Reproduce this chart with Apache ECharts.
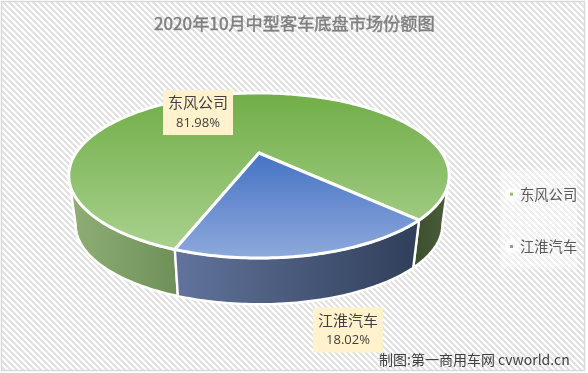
<!DOCTYPE html>
<html><head><meta charset="utf-8">
<style>html,body{margin:0;padding:0;background:#fff}#c{width:588px;height:373px}</style>
<script src="https://cdn.jsdelivr.net/npm/echarts@6/dist/echarts.min.js"></script>
</head><body><div id="c"></div>
<script>
const categories = ['东风公司', '江淮汽车'];
const shares = [81.98, 18.02];
const titleText = '2020年10月中型客车底盘市场份额图';
const creditText = '制图:第一商用车网 cvworld.cn';

const CJK = '"Noto Sans CJK SC"';
const firstSliceDeg = 110;
const view = {cx: 259, cy: 153, b: 183, a: 76.4, k: 0.2727, baseCy: 203, baseScale: 0.964};
const visible = [15.8, 164.2];
const topFill = [['#70AD47', '#A9D18E'], ['#4472C4', '#8FAADC']];
const wallFill = [
  {left: ['#8FAF75', '#6E9058'], right: ['#3C4E2D', '#4B5E39']},
  {left: ['#62749C', '#2F3E59'], right: ['#62749C', '#2F3E59']}
];
const labelBox = [
  {x: 198, y: 112.5, pad: 5},
  {x: 348, y: 330, pad: 5}
];

function project(deg) {
  const t = deg * Math.PI / 180, u = Math.cos(t), v = -Math.sin(t), d = 1 + view.k * v;
  return {dx: view.b * u / d, dy: -view.a * v / d};
}
const topPt = deg => { const p = project(deg); return [view.cx + p.dx, view.cy + p.dy]; };
const basePt = deg => { const p = project(deg); return [view.cx + p.dx * view.baseScale, view.baseCy + p.dy * view.baseScale]; };
function arc(fn, from, to) {
  const out = [], n = Math.max(2, Math.ceil(Math.abs(to - from)));
  for (let i = 0; i <= n; i++) out.push(fn(from + (to - from) * i / n));
  return out;
}
function vGrad(c) { return new echarts.graphic.LinearGradient(0, 0, 0, 1, [{offset: 0, color: c[0]}, {offset: 1, color: c[1]}]); }
function hGrad(c) { return new echarts.graphic.LinearGradient(0, 0, 1, 0, [{offset: 0, color: c[0]}, {offset: 1, color: c[1]}]); }

const sum = shares.reduce((a, b) => a + b, 0);
function sliceRange(idx) {
  let s = firstSliceDeg;
  for (let i = 0; i < idx; i++) s += shares[i] / sum * 360;
  return [s, s + shares[idx] / sum * 360];
}

function makeRender(idx) {
  return function (params, api) {
    const [a0, a1] = sliceRange(idx);
    const value = api.value(0);
    const children = [];
    [0, 360].forEach(off => {
      const from = Math.max(a0, visible[0] + off), to = Math.min(a1, visible[1] + off);
      if (to <= from) return;
      const mid = (from + to) / 2 - off;
      const pts = arc(topPt, from, to).concat(arc(basePt, to, from));
      children.push({
        type: 'polygon', shape: {points: pts},
        style: {fill: hGrad(mid > 90 ? wallFill[idx].left : wallFill[idx].right), stroke: '#fff', lineWidth: 2.4, lineJoin: 'round'},
        z2: 1
      });
    });
    children.push({
      type: 'polygon', shape: {points: [[view.cx, view.cy]].concat(arc(topPt, a0, a1))},
      style: {fill: vGrad(topFill[idx]), stroke: '#fff', lineWidth: 3, lineJoin: 'round'},
      z2: 2
    });
    const L = labelBox[idx];
    children.push({
      type: 'text', x: L.x, y: L.y, z2: 5,
      style: {
        text: '{n|' + categories[idx] + '}\n{p|' + value.toFixed(2) + '%}',
        align: 'center', verticalAlign: 'middle',
        backgroundColor: '#FFF2CC', padding: [2, L.pad, 2, L.pad],
        rich: {
          n: {font: '15px ' + CJK, fill: '#404040', lineHeight: 21},
          p: {font: '13px "Open Sans"', fill: '#404040', lineHeight: 20}
        }
      }
    });
    return {type: 'group', children};
  };
}

const stripe = document.createElement('canvas');
stripe.width = stripe.height = 6;
(function () {
  const g = stripe.getContext('2d');
  g.fillStyle = '#fff'; g.fillRect(0, 0, 6, 6);
  g.fillStyle = '#E2E2E2';
  for (let y = 0; y < 6; y++) for (let x = 0; x < 6; x++) if (((x - y) % 6 + 6) % 6 < 3) g.fillRect(x, y, 1, 1);
})();

const chart = echarts.init(document.getElementById('c'), null, {renderer: 'canvas'});
chart.setOption({
  animation: false,
  backgroundColor: '#fff',
  title: {
    text: titleText, left: 154, top: 15, padding: 0,
    textStyle: {fontFamily: CJK, fontSize: 17.2, fontWeight: 'normal', color: '#7F7F7F', textBorderColor: '#8A8A8A', textBorderWidth: 0.5}
  },
  legend: {
    orient: 'vertical', left: 500, top: 170, width: 88, height: 103,
    padding: [17, 0, 16, 10], itemGap: 38, itemWidth: 3, itemHeight: 3, icon: 'rect',
    backgroundColor: 'rgba(255,255,255,0.45)',
    data: categories,
    textStyle: {fontFamily: CJK, fontSize: 14.3, color: '#595959', padding: [0, 0, 0, 2]}
  },
  graphic: [
    {type: 'rect', z: -1, shape: {x: 1.5, y: 1.5, width: 583, height: 369},
     style: {fill: {image: stripe, repeat: 'repeat'}, stroke: '#D9D9D9', lineWidth: 1.5}},
    {type: 'circle', z: 1, shape: {cx: 512, cy: 195, r: 7}, style: {fill: 'rgba(255,255,255,0.9)'}},
    {type: 'circle', z: 1, shape: {cx: 512, cy: 246, r: 7}, style: {fill: 'rgba(255,255,255,0.9)'}},
    {type: 'text', z: 10, left: 379, top: 353, style: {text: creditText, font: '14px ' + CJK, fill: '#404040'}}
  ],
  series: categories.map((name, i) => ({
    type: 'custom', name, coordinateSystem: 'none',
    itemStyle: {color: i === 0 ? '#8CBF6A' : '#7A98D2'},
    renderItem: makeRender(i),
    data: [[shares[i]]],
    silent: true
  }))
});
</script></body></html>
